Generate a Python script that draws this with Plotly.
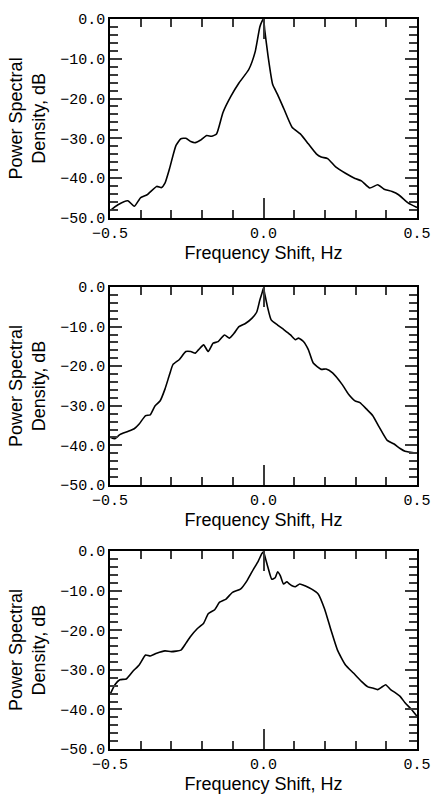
import plotly.graph_objects as go

# Panel 1
x1 = [-0.5, -0.474, -0.442, -0.421, -0.4, -0.379, -0.348, -0.332, -0.321, -0.306, -0.285, -0.269,
      -0.253, -0.237, -0.222, -0.206, -0.185, -0.169, -0.153, -0.132, -0.106, -0.080, -0.048,
      -0.027, -0.012, -0.005, 0.0, 0.004, 0.015, 0.03, 0.046, 0.067, 0.093, 0.12, 0.146, 0.172,
      0.188, 0.209, 0.235, 0.267, 0.298, 0.319, 0.346, 0.372, 0.393, 0.419, 0.440, 0.472, 0.5]
y1 = [-48.2, -46.7, -45.7, -47.1, -44.9, -44.2, -42.1, -42.4, -41.3, -37.6, -31.8, -30.1,
      -30.0, -30.8, -31.1, -30.5, -29.3, -29.5, -28.9, -23.5, -19.4, -16.1, -12.7,
      -8.2, -2.0, -0.6, 0.0, -2.8, -9.4, -16.5, -19.0, -22.7, -27.2, -28.9, -31.4, -33.9,
      -34.7, -35.1, -37.2, -38.8, -40.1, -40.7, -42.5, -41.7, -42.8, -43.4, -44.2, -46.3, -47.4]

# Panel 2
x2 = [-0.5, -0.484, -0.468, -0.442, -0.421, -0.405, -0.384, -0.369, -0.353, -0.337, -0.321,
      -0.306, -0.295, -0.274, -0.253, -0.237, -0.222, -0.211, -0.195, -0.180, -0.164, -0.148,
      -0.127, -0.111, -0.096, -0.080, -0.059, -0.038, -0.022, -0.012, -0.004, 0.0, 0.004,
      0.013, 0.025, 0.046, 0.067, 0.088, 0.104, 0.114, 0.13, 0.146, 0.162, 0.188, 0.204,
      0.225, 0.256, 0.277, 0.298, 0.314, 0.335, 0.356, 0.377, 0.403, 0.424, 0.445, 0.461, 0.5]
y2 = [-37.9, -38.3, -37.3, -36.5, -35.8, -34.6, -32.5, -32.3, -30.0, -28.8, -25.8,
      -22.1, -19.6, -18.3, -16.3, -16.3, -16.7, -15.8, -14.6, -16.3, -14.2, -13.8,
      -12.1, -12.9, -11.7, -10.0, -9.2, -7.9, -6.3, -3.3, -1.3, -0.2, -1.7,
      -5.0, -8.3, -9.6, -10.8, -12.1, -13.3, -12.9, -13.75, -15.8, -19.2, -20.8, -20.7,
      -21.7, -24.6, -27.1, -28.75, -29.2, -30.8, -32.5, -35.4, -38.75, -39.6, -40.8, -41.5, -42.0]

# Panel 3
x3 = [-0.5, -0.484, -0.468, -0.447, -0.426, -0.405, -0.384, -0.369, -0.348, -0.321, -0.300,
      -0.269, -0.253, -0.237, -0.216, -0.195, -0.180, -0.159, -0.143, -0.122, -0.101, -0.075,
      -0.054, -0.033, -0.017, -0.006, 0.0, 0.006, 0.015, 0.027, 0.038, 0.046, 0.055, 0.065,
      0.076, 0.083, 0.093, 0.104, 0.118, 0.135, 0.157, 0.178, 0.199, 0.220, 0.241, 0.267,
      0.293, 0.319, 0.340, 0.356, 0.372, 0.388, 0.398, 0.414, 0.430, 0.445, 0.461, 0.482, 0.5]
y3 = [-36.25, -33.75, -32.5, -32.3, -30.4, -28.75, -26.25, -26.5, -25.8, -25.2, -25.4,
      -25.0, -23.3, -21.5, -19.6, -18.2, -15.8, -14.8, -12.9, -12.1, -10.4, -9.6,
      -7.5, -4.6, -2.5, -0.7, -0.1, -1.7, -4.2, -7.1, -6.7, -5.2, -6.25, -8.3,
      -7.75, -8.2, -8.75, -9.0, -8.3, -8.75, -9.6, -10.8, -14.6, -20.0, -25.0, -28.75,
      -30.8, -32.9, -34.3, -34.6, -35.0, -34.2, -33.75, -35.0, -35.8, -36.7, -38.3, -40.0, -41.7]

x_title = "Frequency Shift, Hz"
y_title = "Power Spectral<br>Density, dB"

W, H = 443, 801
L, R, T, B = 110, 15.5, 12, 51
ph = H - T - B
panels_px = [(12, 213), (283, 483), (550, 750)]
domains = [((H - B - b) / ph, (H - B - t) / ph) for t, b in panels_px]

mono = dict(family="Liberation Mono", size=15, color="black")
sans = dict(family="Liberation Sans", size=18, color="black")
TK = "#3a3a3a"

fig = go.Figure()
ax = {}
for i, ((xs, ys), dom) in enumerate(zip([(x1, y1), (x2, y2), (x3, y3)], domains)):
    n = "" if i == 0 else str(i + 1)
    fig.add_trace(go.Scatter(x=xs, y=ys, mode="lines",
                             line=dict(color="black", width=1.6, shape="spline", smoothing=0.5),
                             xaxis="x" + n, yaxis="y" + n, showlegend=False))
    ax["xaxis" + n] = dict(
        domain=[0, 1], anchor="y" + n, range=[-0.5, 0.5],
        tickmode="linear", tick0=0, dtick=0.5, tickformat=".1f",
        ticks="inside", ticklen=20, tickwidth=2, tickcolor=TK,
        minor=dict(dtick=0.1, ticks="inside", ticklen=8, tickwidth=2, tickcolor=TK),
        showline=True, linecolor="black", linewidth=1.5, mirror="ticks",
        showgrid=False, zeroline=False, tickfont=mono,
        title=dict(text=x_title, font=sans, standoff=3),
    )
    ax["yaxis" + n] = dict(
        domain=list(dom), anchor="x" + n, range=[-50, 0],
        tickmode="linear", tick0=0, dtick=10, tickformat=".1f",
        ticks="inside", ticklen=12, tickwidth=2, tickcolor=TK,
        minor=dict(dtick=2, ticks="inside", ticklen=8, tickwidth=2, tickcolor=TK),
        showline=True, linecolor="black", linewidth=1.5, mirror="ticks",
        showgrid=False, zeroline=False, tickfont=mono,
        title=dict(text=y_title, font=sans, standoff=10),
    )

fig.update_layout(**ax)
fig.update_layout(width=W, height=H, margin=dict(l=L, r=R, t=T, b=B),
                  plot_bgcolor="white", paper_bgcolor="white")
fig.write_html("out.html")
